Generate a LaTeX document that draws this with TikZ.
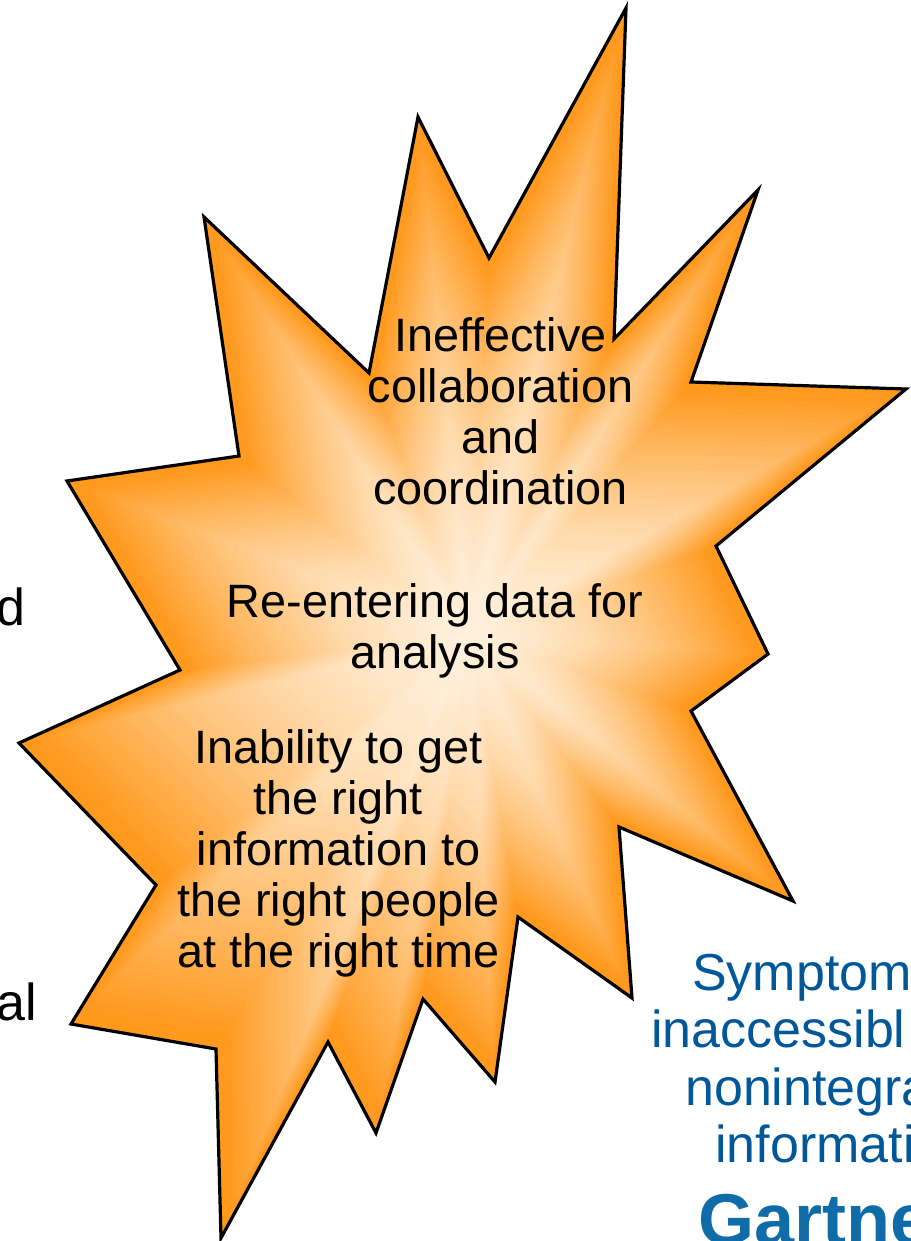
\documentclass[tikz,border=0pt]{standalone}
\usepackage{fontspec}
\setmainfont{Liberation Sans}
\usepackage{tikz}
\usetikzlibrary{positioning}
\definecolor{burstedge}{HTML}{FF9A1F}
\definecolor{burstcore}{HTML}{FFF0DC}
\definecolor{noteblue}{HTML}{00589B}
\definecolor{logoblue}{HTML}{0F6CA8}
\tikzstyle{burstline}=[draw=black,line width=3.2pt,line join=miter,miter limit=10]
\tikzstyle{label}=[inner sep=0pt,align=center,text=black,font=\fontsize{46.8}{51}\selectfont]
\tikzstyle{cutoff}=[inner sep=0pt,anchor=base east,text=black,font=\fontsize{52}{57}\selectfont]
\tikzstyle{note}=[inner sep=0pt,anchor=base west,text=noteblue,font=\fontsize{52}{57}\selectfont]
\newcommand{\burstpath}{(626,8) -- (614,339) -- (758,190) -- (691,382) -- (906,389) -- (716,546) -- (768,654) -- (691,711) -- (793,901) -- (619,827) -- (632,998) -- (518,917) -- (495,1082) -- (423,999) -- (376,1133) -- (328,1042) -- (221,1238) -- (216,1049) -- (71,1024) -- (156,885) -- (19,743) -- (180,670) -- (67,481) -- (239,456) -- (204,217) -- (369,373) -- (418,117) -- (489,258) -- cycle}
\begin{document}
\begin{tikzpicture}[x=1pt,y=-1pt]
\useasboundingbox (0,0) rectangle (910,1241);
\clip (0,0) rectangle (910,1241);
% burst, shrunk step by step towards its middle
\foreach \s in {100,98,...,2} {
  \pgfmathsetmacro{\mix}{min(100,105*(\s/100)^1.6)}
  \fill [burstedge!\mix!burstcore,shift={(470,635)},scale=\s/100,shift={(-470,-635)}] \burstpath;
}
\path [burstline] \burstpath;
\node [label] (collab) at (500.5,411) {Ineffective\\collaboration\\and\\coordination};
\node [label] (reenter) at (435,631) {Re-entering data for\\analysis};
\node [label] (inability) at (338.5,853) {Inability to get\\the right\\information to\\the right people\\at the right time};
\node [cutoff] (leftd) at (26,625) {d};
\node [cutoff] (leftal) at (37,1020) {al};
\node [note] (sympa) at (692,990) {Symptom};
\node [note] (sympb) at (651,1047) {inaccessibl};
\node [note] (sympc) at (685,1105) {nonintegra};
\node [note] (sympd) at (715,1162) {informati};
\node [inner sep=0pt,anchor=base west,text=logoblue,font=\fontsize{72}{72}\selectfont\bfseries] (logo) at (698,1244) {Gartne};
\end{tikzpicture}
\end{document}
